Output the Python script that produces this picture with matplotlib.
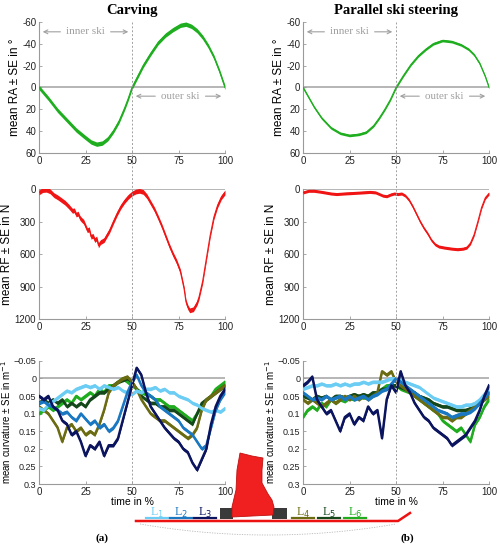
import numpy as np
import matplotlib.pyplot as plt
import matplotlib.transforms as mtransforms
from matplotlib.lines import Line2D
from matplotlib.patches import Polygon, Rectangle

plt.rcParams['font.family'] = ['Liberation Sans', 'DejaVu Sans']
plt.rcParams['axes.unicode_minus'] = False

# ---- data ----
titles = ['Carving', 'Parallel ski steering']
panel_tags = ['(a)', '(b)']

# rotation angle RA (deg)
t_ra_carv = [0, 5, 10, 15, 20, 25, 28, 31, 34, 37, 40, 43, 46, 48, 50,
             53, 56, 60, 64, 68, 72, 76, 79, 82, 85, 88, 91, 94, 97, 100]
ra_carv = [0, 10, 21, 30, 39, 46, 50, 52, 51, 47, 40, 31, 19, 10, 0,
           -10, -20, -31, -41, -48, -53, -57, -58, -56, -52, -46, -38, -28, -15, 0]
ra_carv_se = 2.0

t_ra_par = [0, 3, 6, 10, 15, 20, 25, 30, 34, 38, 41, 44, 47, 50,
            54, 58, 62, 66, 70, 75, 80, 85, 89, 92, 95, 98, 100]
ra_par = [0, 9, 18, 28, 37, 42, 44, 43, 41, 35, 28, 20, 11, 0,
          -11, -21, -29, -35, -40, -43, -42, -39, -35, -30, -22, -10, 0]
ra_par_se = 1.2

# radial force RF (N)
t_rf_carv = [0, 2, 4, 6, 8, 10, 12, 14, 16, 18, 19, 20, 21, 22, 23, 24, 25, 26, 27, 28,
             29, 30, 31, 32, 33, 34, 35, 36, 38, 40, 42, 44, 46, 48, 50, 52, 54, 56, 58,
             60, 62, 64, 66, 68, 70, 72, 74, 76, 78, 79, 80, 81, 82, 83, 84, 85, 86, 88,
             90, 92, 94, 96, 98, 100]
rf_carv = [30, 8, 5, 20, 55, 75, 100, 125, 160, 200, 195, 235, 225, 265, 285, 300, 340, 380,
           370, 440, 430, 470, 455, 520, 490, 480, 470, 440, 380, 300, 225, 160, 110, 70, 40,
           22, 15, 25, 65, 125, 185, 260, 340, 430, 520, 600, 670, 760, 920, 1040, 1090, 1120,
           1115, 1110, 1080, 1050, 1000, 850, 640, 430, 260, 150, 75, 30]
rf_carv_se = 22

t_rf_par = [0, 3, 6, 10, 15, 18, 22, 27, 32, 36, 39, 41, 43, 45, 47, 49, 51, 53, 55, 57,
            59, 61, 63, 65, 67, 69, 71, 73, 76, 80, 83, 86, 88, 90, 92, 94, 96, 98, 100]
rf_par = [30, 15, 15, 25, 40, 45, 40, 35, 30, 25, 30, 45, 60, 65, 50, 40, 45, 40, 60, 100,
          160, 230, 300, 360, 410, 470, 510, 530, 540, 550, 555, 550, 540, 500, 420, 300,
          170, 80, 40]
rf_par_se = 14

# ski curvature at six locations L1..L6 (1/m), sampled every 2.5 % of the turn
t_curv = np.arange(0, 100.1, 2.5)
curv_labels = ['1', '2', '3', '4', '5', '6']
curv_colors = ['#6ccdf4', '#1a78c2', '#0b145e', '#6b6b12', '#14481a', '#1fad1f']

curv_carv = [
    [0.085, 0.09, 0.075, 0.065, 0.055, 0.045, 0.035, 0.04, 0.03, 0.025, 0.02, 0.025, 0.02, 0.03,
     0.02, 0.025, 0.03, 0.025, 0.035, 0.04, 0.045, 0.035, 0.04, 0.03, 0.03, 0.025, 0.035, 0.03,
     0.04, 0.04, 0.05, 0.055, 0.06, 0.07, 0.075, 0.085, 0.09, 0.095, 0.09, 0.095, 0.085],
    [0.07, 0.065, 0.075, 0.08, 0.09, 0.1, 0.095, 0.11, 0.12, 0.1, 0.115, 0.13, 0.12, 0.14,
     0.13, 0.15, 0.14, 0.12, 0.08, 0.04, 0.01, -0.01, 0.02, 0.04, 0.05, 0.06, 0.08, 0.09,
     0.1, 0.11, 0.12, 0.14, 0.15, 0.16, 0.18, 0.2, 0.19, 0.14, 0.09, 0.06, 0.04],
    [0.05, 0.06, 0.05, 0.08, 0.09, 0.12, 0.13, 0.16, 0.15, 0.18, 0.22, 0.19, 0.2, 0.18,
     0.22, 0.19, 0.19, 0.17, 0.12, 0.07, 0.02, -0.03, -0.01, 0.04, 0.08, 0.1, 0.12, 0.14,
     0.155, 0.17, 0.18, 0.2, 0.21, 0.24, 0.26, 0.23, 0.2, 0.13, 0.08, 0.05, 0.03],
    [0.08, 0.09, 0.1, 0.12, 0.14, 0.18, 0.14, 0.13, 0.15, 0.14, 0.16, 0.15, 0.16, 0.13,
     0.09, 0.04, 0.02, 0.01, 0.0, -0.005, 0.01, 0.03, 0.06, 0.08, 0.1, 0.11, 0.12, 0.12,
     0.13, 0.14, 0.15, 0.16, 0.17, 0.16, 0.14, 0.09, 0.06, 0.05, 0.04, 0.03, 0.02],
    [0.07, 0.06, 0.07, 0.06, 0.07, 0.06, 0.08, 0.07, 0.08, 0.07, 0.08, 0.06, 0.05, 0.04,
     0.04, 0.03, 0.02, 0.01, 0.005, 0.0, 0.01, 0.03, 0.05, 0.06, 0.07, 0.07, 0.08, 0.08,
     0.09, 0.09, 0.1, 0.11, 0.12, 0.13, 0.1, 0.07, 0.06, 0.05, 0.04, 0.03, 0.02],
    [0.1, 0.09, 0.08, 0.09, 0.08, 0.07, 0.06, 0.07, 0.05, 0.06, 0.05, 0.04, 0.05, 0.03,
     0.04, 0.02, 0.02, 0.01, 0.0, 0.01, 0.02, 0.03, 0.04, 0.045, 0.05, 0.06, 0.06, 0.07,
     0.08, 0.08, 0.09, 0.1, 0.11, 0.12, 0.1, 0.08, 0.06, 0.05, 0.03, 0.02, 0.01],
]
curv_par = [
    [0.03, 0.025, 0.02, 0.02, 0.015, 0.02, 0.02, 0.015, 0.02, 0.015, 0.02, 0.015, 0.015, 0.01,
     0.015, 0.01, 0.01, 0.01, 0.005, 0.0, 0.0, 0.005, 0.01, 0.015, 0.02, 0.025, 0.035, 0.045,
     0.055, 0.06, 0.065, 0.07, 0.075, 0.08, 0.08, 0.075, 0.075, 0.07, 0.06, 0.045, 0.03],
    [0.04, 0.05, 0.06, 0.055, 0.06, 0.05, 0.06, 0.055, 0.05, 0.06, 0.05, 0.06, 0.055, 0.05,
     0.06, 0.05, 0.045, 0.035, 0.03, 0.015, 0.0, 0.01, 0.02, 0.03, 0.04, 0.05, 0.06, 0.07,
     0.08, 0.09, 0.095, 0.1, 0.11, 0.105, 0.1, 0.1, 0.095, 0.085, 0.07, 0.055, 0.04],
    [0.02, 0.01, -0.005, 0.06, 0.08, 0.1, 0.09, 0.12, 0.15, 0.11, 0.1, 0.13, 0.11, 0.12,
     0.08, 0.1, 0.09, 0.17, 0.06, 0.02, 0.04, -0.02, 0.02, 0.04, 0.07, 0.09, 0.11, 0.12,
     0.14, 0.15, 0.16, 0.17, 0.19, 0.18, 0.17, 0.16, 0.14, 0.12, 0.09, 0.05, 0.02],
    [0.06, 0.07, 0.06, 0.07, 0.08, 0.07, 0.06, 0.07, 0.06, 0.05, 0.06, 0.05, 0.06, 0.05,
     0.06, 0.05, 0.04, -0.02, -0.01, -0.02, 0.01, 0.02, 0.03, 0.04, 0.05, 0.06, 0.07, 0.08,
     0.09, 0.1, 0.11, 0.11, 0.12, 0.11, 0.11, 0.1, 0.09, 0.08, 0.07, 0.06, 0.05],
    [0.05, 0.055, 0.06, 0.05, 0.055, 0.05, 0.06, 0.05, 0.05, 0.055, 0.05, 0.045, 0.05, 0.045,
     0.05, 0.04, 0.04, 0.03, 0.03, 0.02, 0.02, 0.025, 0.03, 0.035, 0.04, 0.05, 0.055, 0.06,
     0.07, 0.075, 0.08, 0.08, 0.085, 0.09, 0.09, 0.09, 0.085, 0.08, 0.07, 0.055, 0.04],
    [0.11, 0.09, 0.08, 0.09, 0.07, 0.08, 0.06, 0.07, 0.06, 0.065, 0.055, 0.06, 0.05, 0.055,
     0.05, 0.045, 0.04, 0.03, 0.02, 0.02, 0.02, 0.03, 0.035, 0.04, 0.05, 0.06, 0.07, 0.08,
     0.09, 0.1, 0.12, 0.13, 0.14, 0.15, 0.14, 0.16, 0.18, 0.13, 0.11, 0.08, 0.06],
]
curv_se = 0.005
draw_order = [5, 4, 3, 0, 1, 2]

# ---- layout ----
fig = plt.figure(figsize=(5, 5.5), dpi=100)
col_x = [0.078, 0.606]
col_w = 0.372
row_y = [0.722, 0.42, 0.12]
row_h = [0.238, 0.236, 0.224]
tag_x = [0.204, 0.814]
grey = '#9a9a9a'
txt_grey = '#a0a0a0'
serif = ['Liberation Serif', 'DejaVu Serif']


def style(ax, lsize=7):
    for s in ['top', 'right']:
        ax.spines[s].set_visible(False)
    for s in ['left', 'bottom']:
        ax.spines[s].set_color(grey)
        ax.spines[s].set_linewidth(0.8)
    ax.tick_params(direction='in', length=2.5, width=0.6, color=grey,
                   labelsize=lsize, labelcolor='#222222', pad=2)
    ax.tick_params(axis='x', labelsize=7)
    ax.set_xlim(0, 100)
    ax.set_xticks([0, 25, 50, 75, 100])
    ax.axhline(0, color='#b0b0b0', lw=1.3, zorder=1)


ra_t = [t_ra_carv, t_ra_par]
ra_v = [ra_carv, ra_par]
ra_se = [ra_carv_se, ra_par_se]
rf_t = [t_rf_carv, t_rf_par]
rf_v = [rf_carv, rf_par]
rf_se = [rf_carv_se, rf_par_se]
curv_v = [curv_carv, curv_par]

for c in range(2):
    ax1 = fig.add_axes([col_x[c], row_y[0], col_w, row_h[0]])
    ax2 = fig.add_axes([col_x[c], row_y[1], col_w, row_h[1]])
    ax3 = fig.add_axes([col_x[c], row_y[2], col_w, row_h[2]])

    # RA
    style(ax1)
    v = np.array(ra_v[c])
    ax1.fill_between(ra_t[c], v - ra_se[c], v + ra_se[c], color='#1fae1f', lw=0, zorder=3)
    ax1.plot(ra_t[c], v, color='#1fae1f', lw=0.8, zorder=3)
    ax1.set_ylim(60, -60)
    ax1.set_yticks([-60, -40, -20, 0, 20, 40, 60])
    ax1.set_ylabel('mean RA ± SE in °', fontsize=8.5, labelpad=1)
    ax1.set_title(titles[c], fontsize=10.5, fontweight='bold', family=serif, pad=6)

    # inner / outer ski arrows
    sk = dict(fontsize=8, color=txt_grey, ha='center', va='center', family=serif)
    ap = dict(arrowstyle='->', color=txt_grey, lw=0.8, mutation_scale=7)
    ax1.text(25, -51, 'inner ski', **sk)
    ax1.annotate('', xy=(0.5, -51), xytext=(13, -51), arrowprops=ap)
    ax1.annotate('', xy=(49.5, -51), xytext=(37, -51), arrowprops=ap)
    ax1.text(76, 8, 'outer ski', **sk)
    ax1.annotate('', xy=(50.5, 8), xytext=(64, 8), arrowprops=ap)
    ax1.annotate('', xy=(99.5, 8), xytext=(88, 8), arrowprops=ap)

    # RF
    style(ax2)
    v = np.array(rf_v[c])
    ax2.fill_between(rf_t[c], v - rf_se[c], v + rf_se[c], color='#f01414', lw=0, zorder=3)
    ax2.plot(rf_t[c], v, color='#f01414', lw=0.8, zorder=3)
    ax2.set_ylim(1200, 0)
    ax2.set_yticks([0, 300, 600, 900, 1200])
    ax2.set_ylabel('mean RF ± SE in N', fontsize=8.5, labelpad=1)

    # curvature
    style(ax3, lsize=6.5)
    for i in draw_order:
        v = np.array(curv_v[c][i])
        ax3.fill_between(t_curv, v - curv_se, v + curv_se, color=curv_colors[i], lw=0, zorder=3)
        ax3.plot(t_curv, v, color=curv_colors[i], lw=1.8, zorder=3)
    ax3.set_ylim(0.3, -0.05)
    ax3.set_yticks([-0.05, 0, 0.05, 0.1, 0.15, 0.2, 0.25, 0.3])
    ax3.set_yticklabels(['\u22120.05', '0', '0.05', '0.1', '0.15', '0.2', '0.25', '0.3'])
    ax3.set_ylabel('mean curvature ± SE in m$^{-1}$', fontsize=7)
    ax3.yaxis.set_label_coords(-0.138, 0.5)
    ax3.set_xlabel('time in %', fontsize=7.5, labelpad=0)

    # dashed line at 50 % running through all three panels
    tr = mtransforms.blended_transform_factory(ax1.transData, fig.transFigure)
    fig.add_artist(Line2D([50, 50], [row_y[0] + row_h[0], row_y[2]], transform=tr,
                          color='#a0a0a0', lw=0.7, ls=(0, (2, 2))))

    fig.text(tag_x[c], 0.016, panel_tags[c], fontsize=8, fontweight='bold',
             family=serif, ha='center')


# ---- ski, boot and L1..L6 legend at the bottom ----
def fp(x, y):
    return x / 500, 1 - y / 550


ski = Line2D(*zip(*[fp(136, 521), fp(398, 521), fp(410, 513)]),
             transform=fig.transFigure, color='#ee1111', lw=1.8)
fig.add_artist(ski)
xs = np.linspace(140, 396, 40)
ys = 524 + 11 * (1 - ((xs - 268) / 128) ** 2)
arc = Line2D(xs / 500, 1 - ys / 550, transform=fig.transFigure,
             color='#b8b8b8', lw=0.6, ls=(0, (1.5, 1.5)))
fig.add_artist(arc)

for bx, bw in [(220, 13), (272, 15)]:
    fig.add_artist(Rectangle(fp(bx, 519), bw / 500, 11 / 550, transform=fig.transFigure,
                             color='#3a3a3a', lw=0))
boot = [(240, 453), (252, 456), (263, 458), (262, 470), (262, 483), (268, 494),
        (272, 500), (274, 507), (273, 515), (232, 517), (232, 507), (236, 490), (237, 470)]
fig.add_artist(Polygon([fp(x, y) for x, y in boot], closed=True, transform=fig.transFigure,
                       facecolor='#f02020', edgecolor='#c01010', lw=0.6))

leg_x = [157, 181, 205, 303, 329, 355]
for i in range(6):
    x, y = fp(leg_x[i], 513)
    fig.text(x, y, 'L$_' + curv_labels[i] + '$', color=curv_colors[i], fontsize=8.5,
             ha='center', va='center', family=serif)
    fig.add_artist(Line2D([(leg_x[i] - 11) / 500, (leg_x[i] + 11) / 500],
                          [1 - 518 / 550, 1 - 518 / 550], transform=fig.transFigure,
                          color=curv_colors[i], lw=1.6))

fig.savefig('out.png', dpi=100)
